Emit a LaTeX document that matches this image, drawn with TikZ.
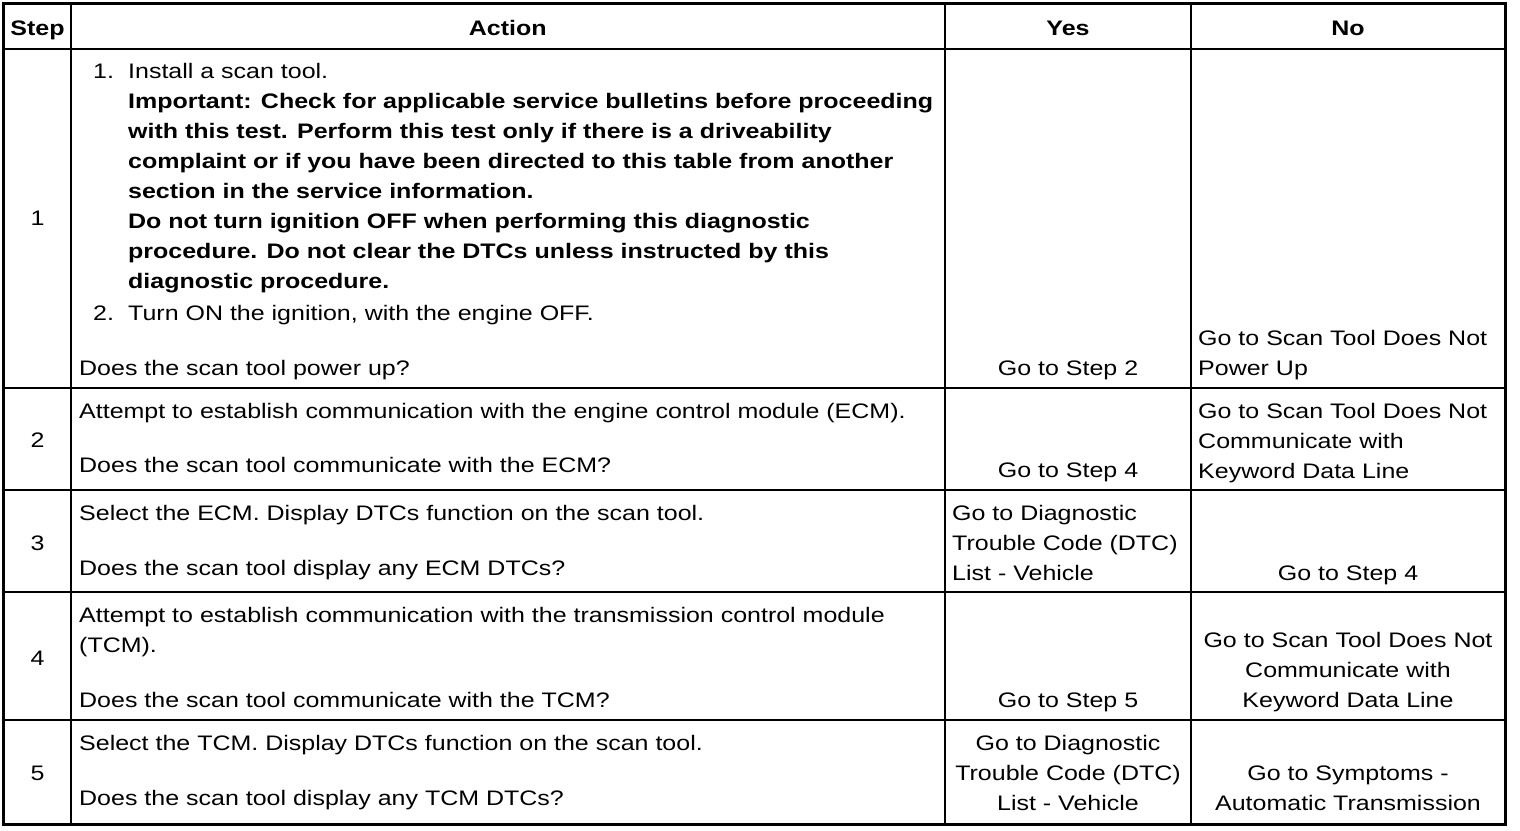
\documentclass[tikz,border=0pt]{standalone}
\usepackage{fontspec}
\setmainfont{Liberation Sans}[FakeStretch=1.19]
\begin{document}
\begin{tikzpicture}[x=1pt,y=-1pt,
  every node/.style={inner sep=0pt},
  txt/.style={anchor=base west},
  ctr/.style={anchor=base},
  hdr/.style={anchor=base, font=\fontsize{21}{30}\selectfont\bfseries},
  bld/.style={anchor=base west, font=\fontsize{21}{30}\selectfont\bfseries},
  outer/.style={line width=3pt},
  inner/.style={line width=2pt},
  font=\fontsize{21}{30}\selectfont]
\useasboundingbox (0,0) rectangle (1520,830);
% grid
\draw[inner] (70.7,3.5) -- (70.7,824);
\draw[inner] (944.7,3.5) -- (944.7,824);
\draw[inner] (1191.3,3.5) -- (1191.3,824);
\draw[inner] (3.5,48.8) -- (1505,48.8);
\draw[line width=1.8pt] (3.5,387.7) -- (1505,387.7);
\draw[line width=1.8pt] (3.5,490.2) -- (1505,490.2);
\draw[line width=1.8pt] (3.5,592.3) -- (1505,592.3);
\draw[line width=1.8pt] (3.5,720.3) -- (1505,720.3);
\draw[outer] (3.5,3.5) rectangle (1505,824);
% header
\node[hdr] (hStep) at (37.5,35.5) {Step};
\node[hdr] (hAct) at (507.7,35.5) {Action};
\node[hdr] (hYes) at (1068,35.5) {Yes};
\node[hdr] (hNo) at (1348,35.5) {No};
% step numbers
\node[ctr] (s1) at (37.5,225.5) {1};
\node[ctr] (s2) at (37.5,447.5) {2};
\node[ctr] (s3) at (37.5,550.5) {3};
\node[ctr] (s4) at (37.5,665.5) {4};
\node[ctr] (s5) at (37.5,780.5) {5};
% row 1 action
\node[txt] (n1) at (93,78.5) {1.};
\node[txt] (a1a) at (128,78.5) {Install a scan tool.};
\node[bld] (a1b) at (128,108.5) {Important: Check for applicable service bulletins before proceeding};
\node[bld] (a1c) at (128,138.5) {with this test. Perform this test only if there is a driveability};
\node[bld] (a1d) at (128,168.5) {complaint or if you have been directed to this table from another};
\node[bld] (a1e) at (128,198.5) {section in the service information.};
\node[bld] (a1f) at (128,228.5) {Do not turn ignition OFF when performing this diagnostic};
\node[bld] (a1g) at (128,258.5) {procedure. Do not clear the DTCs unless instructed by this};
\node[bld] (a1h) at (128,288.5) {diagnostic procedure.};
\node[txt] (n2) at (93,320) {2.};
\node[txt] (a1i) at (128,320) {Turn ON the ignition, with the engine OFF.};
\node[txt] (a1q) at (79,375.5) {Does the scan tool power up?};
\node[ctr] (y1) at (1068,375.5) {Go to Step 2};
\node[txt] (no1a) at (1198,345.5) {Go to Scan Tool Does Not};
\node[txt] (no1b) at (1198,375.5) {Power Up};
% row 2
\node[txt] (a2a) at (79,418.5) {Attempt to establish communication with the engine control module (ECM).};
\node[txt] (a2q) at (79,472.5) {Does the scan tool communicate with the ECM?};
\node[ctr] (y2) at (1068,477.5) {Go to Step 4};
\node[txt] (no2a) at (1198,418.5) {Go to Scan Tool Does Not};
\node[txt] (no2b) at (1198,448.5) {Communicate with};
\node[txt] (no2c) at (1198,478.5) {Keyword Data Line};
% row 3
\node[txt] (a3a) at (79,520.5) {Select the ECM. Display DTCs function on the scan tool.};
\node[txt] (a3q) at (79,575.5) {Does the scan tool display any ECM DTCs?};
\node[txt] (y3a) at (952,520.5) {Go to Diagnostic};
\node[txt] (y3b) at (952,550.5) {Trouble Code (DTC)};
\node[txt] (y3c) at (952,580.5) {List - Vehicle};
\node[ctr] (no3) at (1348,580.5) {Go to Step 4};
% row 4
\node[txt] (a4a) at (79,622.5) {Attempt to establish communication with the transmission control module};
\node[txt] (a4b) at (79,652.5) {(TCM).};
\node[txt] (a4q) at (79,707.5) {Does the scan tool communicate with the TCM?};
\node[ctr] (y4) at (1068,707.5) {Go to Step 5};
\node[ctr] (no4a) at (1348,647.5) {Go to Scan Tool Does Not};
\node[ctr] (no4b) at (1348,677.5) {Communicate with};
\node[ctr] (no4c) at (1348,707.5) {Keyword Data Line};
% row 5
\node[txt] (a5a) at (79,750.5) {Select the TCM. Display DTCs function on the scan tool.};
\node[txt] (a5q) at (79,805.5) {Does the scan tool display any TCM DTCs?};
\node[ctr] (y5a) at (1068,750.5) {Go to Diagnostic};
\node[ctr] (y5b) at (1068,780.5) {Trouble Code (DTC)};
\node[ctr] (y5c) at (1068,810.5) {List - Vehicle};
\node[ctr] (no5a) at (1348,780.5) {Go to Symptoms -};
\node[ctr] (no5b) at (1348,810.5) {Automatic Transmission};
\end{tikzpicture}
\end{document}
